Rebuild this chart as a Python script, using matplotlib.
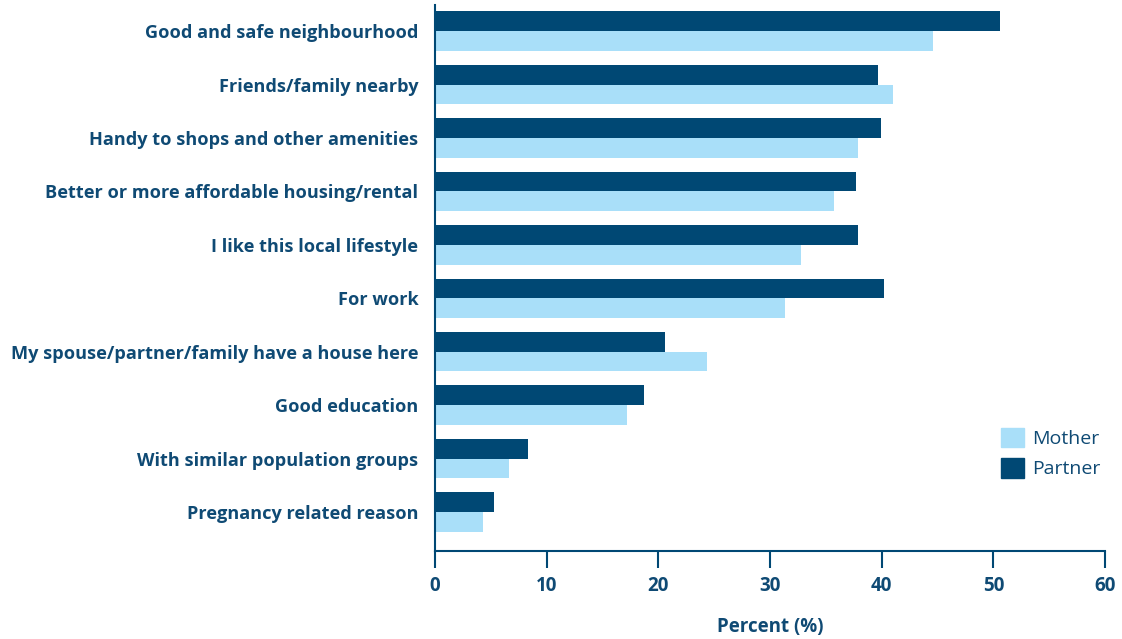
import matplotlib
matplotlib.use("Agg")
import matplotlib.pyplot as plt
from matplotlib.patches import Patch
import numpy as np

categories = [
    "Good and safe neighbourhood",
    "Friends/family nearby",
    "Handy to shops and other amenities",
    "Better or more affordable housing/rental",
    "I like this local lifestyle",
    "For work",
    "My spouse/partner/family have a house here",
    "Good education",
    "With similar population groups",
    "Pregnancy related reason",
]
mother = [44.6, 41.0, 37.9, 35.7, 32.8, 31.3, 24.4, 17.2, 6.6, 4.3]
partner = [50.6, 39.7, 39.9, 37.7, 37.9, 40.2, 20.6, 18.7, 8.3, 5.3]
xticks = [0, 10, 20, 30, 40, 50, 60]

C_PARTNER = "#004874"
C_MOTHER = "#a9dff9"
C_TEXT = "#0f4a74"

plt.rcParams["font.family"] = ["Open Sans", "DejaVu Sans"]

fig = plt.figure(figsize=(11.22, 6.39), dpi=100)
ax = fig.add_axes([435/1122, 1-551/639, 670/1122, 546/639])

y = np.arange(len(categories))
h = 0.37
ax.barh(y - h/2, partner, height=h, color=C_PARTNER, label="Partner")
ax.barh(y + h/2, mother, height=h, color=C_MOTHER, label="Mother")

ax.set_xlim(0, 60)
ax.set_ylim(9.73, -0.49)
ax.set_xticks(xticks)
ax.set_xticklabels([str(t) for t in xticks], fontsize=13.5, fontweight="bold", color=C_TEXT)
ax.set_yticks(y)
ax.set_yticklabels(categories, fontsize=13.1, fontweight="bold", color=C_TEXT)
ax.tick_params(axis="y", length=0, pad=12)
ax.tick_params(axis="x", length=12, width=1.5, color=C_PARTNER, pad=6, direction="out")
for s in ["top", "right"]:
    ax.spines[s].set_visible(False)
for s in ["left", "bottom"]:
    ax.spines[s].set_color(C_PARTNER)
    ax.spines[s].set_linewidth(1.5)

ax.set_xlabel("Percent (%)", fontsize=13.5, fontweight="bold", color=C_TEXT, labelpad=15)

handles = [Patch(color=C_MOTHER, label="Mother"), Patch(color=C_PARTNER, label="Partner")]
fig.legend(handles=handles, loc="upper left", bbox_to_anchor=(983/1122, 1-410/639),
           frameon=False, fontsize=14, handlelength=1.2, handleheight=1.2,
           handletextpad=0.45, labelspacing=0.5, labelcolor=C_TEXT)

fig.savefig("out.png", dpi=100)
